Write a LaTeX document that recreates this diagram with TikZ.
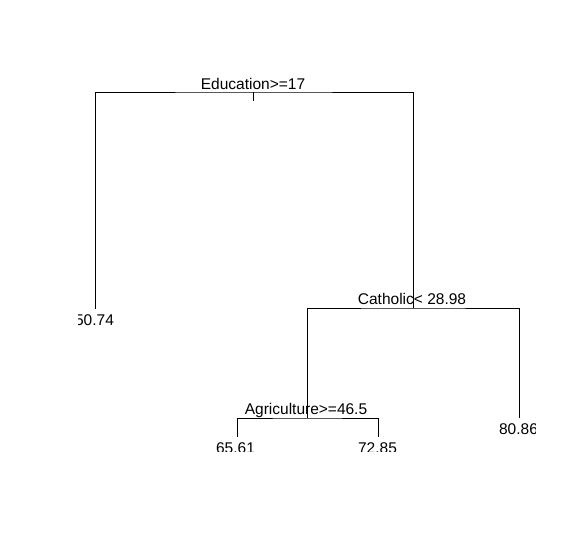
\documentclass[tikz,border=0pt]{standalone}
\usepackage{fontspec}
\setmainfont{Liberation Sans}
\usetikzlibrary{positioning}

\begin{document}
\begin{tikzpicture}[x=1pt,y=-1pt,
  branch/.style={line width=1pt},
  split/.style={font=\fontsize{15.5}{18}\selectfont, anchor=base, inner sep=0pt},
  leaf/.style={font=\fontsize{15.5}{18}\selectfont, anchor=base, inner sep=0pt}]
\useasboundingbox (0,0) rectangle (577,549);

\begin{scope}
% plot region
\clip (78,55) rectangle (535.8,451);

% split points and leaves
\coordinate (root) at (253,92);
\coordinate (cath) at (413,308);
\coordinate (agri) at (307,418);
\coordinate (lfA) at (95,309);
\coordinate (lfB) at (237,437);
\coordinate (lfC) at (378,437);
\coordinate (lfD) at (519,418);

% branches
\draw[branch] (lfA) |- (root) -| (cath);
\draw[branch] (root) -- ++(0,9);
\draw[branch] (agri) |- (cath) -| (lfD);
\draw[branch] (lfB) |- (agri) -| (lfC);

% split labels
\node[split] (educL) at (253,89) {Education>=17};
\node[split] (cathL) at (412,304.5) {Catholic< 28.98};
\node[split] (agriL) at (306,414) {Agriculture>=46.5};

% leaf labels
\node[leaf] (lfAL) at (94.5,325) {50.74};
\node[leaf] (lfBL) at (235.5,453) {65.61};
\node[leaf] (lfCL) at (377.5,453) {72.85};
\node[leaf] (lfDL) at (518.5,434) {80.86};
\end{scope}

\end{tikzpicture}
\end{document}
